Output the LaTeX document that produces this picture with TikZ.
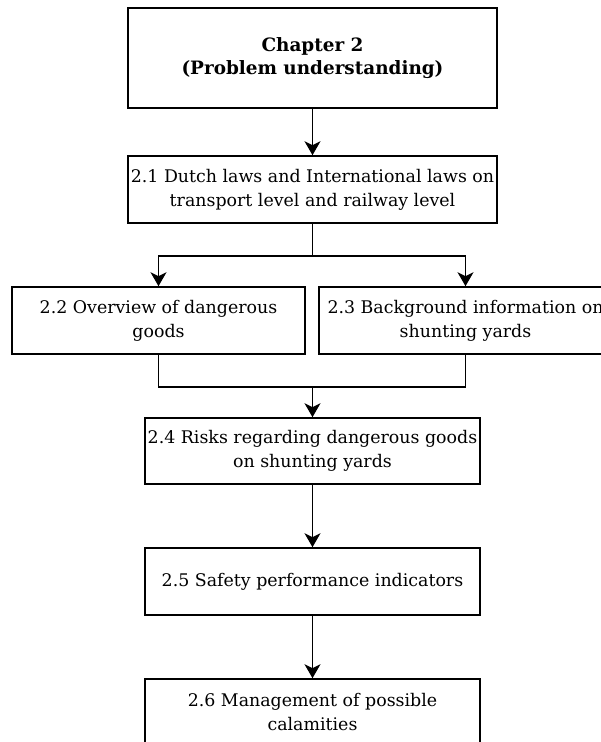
\documentclass[tikz,border=0pt]{standalone}
\usepackage{fontspec}
\setmainfont{DejaVu Serif}
\usetikzlibrary{arrows.meta}

\tikzset{
    secbox/.style={draw, line width=1.6pt, align=center, inner sep=0pt,
        font=\fontsize{17.4}{24}\selectfont},
    arr/.style={line width=1.6pt, -{Stealth[length=14pt,width=16pt,inset=4pt]}},
    link/.style={line width=1.6pt}
}

\begin{document}
\begin{tikzpicture}[x=1pt,y=-1pt]
        \clip (0,0) rectangle (601,742);

        % Chapter heading
        \node[secbox, minimum width=369pt, minimum height=100pt,
              font=\fontsize{18.4}{23}\selectfont\bfseries] (chap) at (312.5,58)
              {Chapter 2\\(Problem understanding)};

        % Sections
        \node[secbox, minimum width=369pt, minimum height=67pt] (law) at (312.5,189.5)
              {2.1 Dutch laws and International laws on\\transport level and railway level};
        \node[secbox, minimum width=293pt, minimum height=67pt] (goods) at (158.5,320.5)
              {2.2 Overview of dangerous\\goods};
        \node[secbox, minimum width=293pt, minimum height=67pt] (yard) at (465.5,320.5)
              {2.3 Background information on\\shunting yards};
        \node[secbox, minimum width=335pt, minimum height=66pt] (risk) at (312.5,451)
              {2.4 Risks regarding dangerous goods\\on shunting yards};
        \node[secbox, minimum width=335pt, minimum height=67pt] (spi) at (312.5,581.5)
              {2.5 Safety performance indicators};
        \node[secbox, minimum width=335pt, minimum height=67pt] (calam) at (312.5,712.5)
              {2.6 Management of possible\\calamities};

        % Split and join points
        \coordinate (split) at (312.5,256);
        \coordinate (join) at (312.5,387);

        % Connectors
        \draw[arr] (chap) -- (law);
        \draw[link] (law) -- (split);
        \draw[arr] (split) -| (goods);
        \draw[arr] (split) -| (yard);
        \draw[link] (goods) |- (join);
        \draw[link] (yard) |- (join);
        \draw[arr] (join) -- (risk);
        \draw[arr] (risk) -- (spi);
        \draw[arr] (spi) -- (calam);
\end{tikzpicture}
\end{document}
